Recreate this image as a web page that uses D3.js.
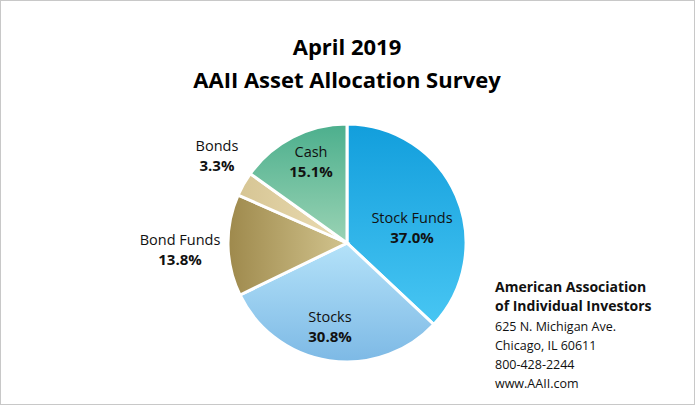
<!DOCTYPE html>
<html><head><meta charset="utf-8">
<script src="https://cdn.jsdelivr.net/npm/d3@7"></script>
<style>body{margin:0;background:#fff}svg{font-family:"Open Sans","Noto Sans",sans-serif}</style>
</head><body><div id="chart"></div>
<script>
// data
var categories = ["Stock Funds", "Stocks", "Bond Funds", "Bonds", "Cash"];
var values = [37.0, 30.8, 13.8, 3.3, 15.1];
var labelPos = [[412, 223], [330, 322], [180, 245], [217, 151], [311, 157]]; // label anchors
var width = 695, height = 405;
var cx = 347, cy = 243, r = 119;

var svg = d3.select("#chart").append("svg")
    .attr("width", width).attr("height", height);

svg.append("rect").attr("x", 0.5).attr("y", 0.5)
    .attr("width", width - 1).attr("height", height - 1)
    .attr("fill", "#fff").attr("stroke", "#c8c8c8");

// gradients
var grads = [
  {id: "g0", x2: 0, y2: 1, c: ["#129edc", "#48c6f3"]},
  {id: "g1", x2: 0, y2: 1, c: ["#b4e2f9", "#7db9e5"]},
  {id: "g2", x2: 1, y2: 0, c: ["#9e894c", "#d2c48e"]},
  {id: "g3", x2: 1, y2: 0, c: ["#d6c594", "#ebdcb3"]},
  {id: "g4", x2: 0, y2: 1, c: ["#4caf8d", "#9ad3b4"]}
];
var defs = svg.append("defs");
grads.forEach(function(g) {
  var lg = defs.append("linearGradient").attr("id", g.id)
      .attr("x1", 0).attr("y1", 0).attr("x2", g.x2).attr("y2", g.y2);
  lg.append("stop").attr("offset", 0).attr("stop-color", g.c[0]);
  lg.append("stop").attr("offset", 1).attr("stop-color", g.c[1]);
});

svg.append("text").attr("x", 347).attr("y", 55).attr("text-anchor", "middle")
    .attr("font-size", 22).attr("font-weight", "bold").text("April 2019");
svg.append("text").attr("x", 347).attr("y", 88).attr("text-anchor", "middle")
    .attr("font-size", 22).attr("font-weight", "bold").text("AAII Asset Allocation Survey");

var pie = d3.pie().sort(null).value(function(d) { return d; });
var arc = d3.arc().innerRadius(0).outerRadius(r);

svg.append("g").attr("transform", "translate(" + cx + "," + cy + ")")
  .selectAll("path").data(pie(values)).enter().append("path")
    .attr("d", arc)
    .attr("fill", function(d, i) { return "url(#g" + i + ")"; })
    .attr("stroke", "#fff").attr("stroke-width", 3);

var lab = svg.append("g").selectAll("text").data(categories).enter().append("text")
    .attr("text-anchor", "middle").attr("font-size", 14.5).attr("fill", "#111")
    .attr("x", function(d, i) { return labelPos[i][0]; })
    .attr("y", function(d, i) { return labelPos[i][1]; });
lab.append("tspan").text(function(d) { return d; });
lab.append("tspan").attr("font-weight", "bold").attr("font-size", 15)
    .attr("x", function(d, i) { return labelPos[i][0]; }).attr("dy", 20)
    .text(function(d, i) { return values[i].toFixed(1) + "%"; });

var info = ["American Association", "of Individual Investors", "625 N. Michigan Ave.",
            "Chicago, IL 60611", "800-428-2244", "www.AAII.com"];
svg.append("g").selectAll("text").data(info).enter().append("text")
    .attr("x", 495).attr("y", function(d, i) { return 292 + i * 19 + (i > 1 ? 1 : 0); })
    .attr("font-size", function(d, i) { return i < 2 ? 14 : 12.5; })
    .attr("font-weight", function(d, i) { return i < 2 ? "bold" : "normal"; })
    .attr("fill", "#111").text(function(d) { return d; });
</script></body></html>
